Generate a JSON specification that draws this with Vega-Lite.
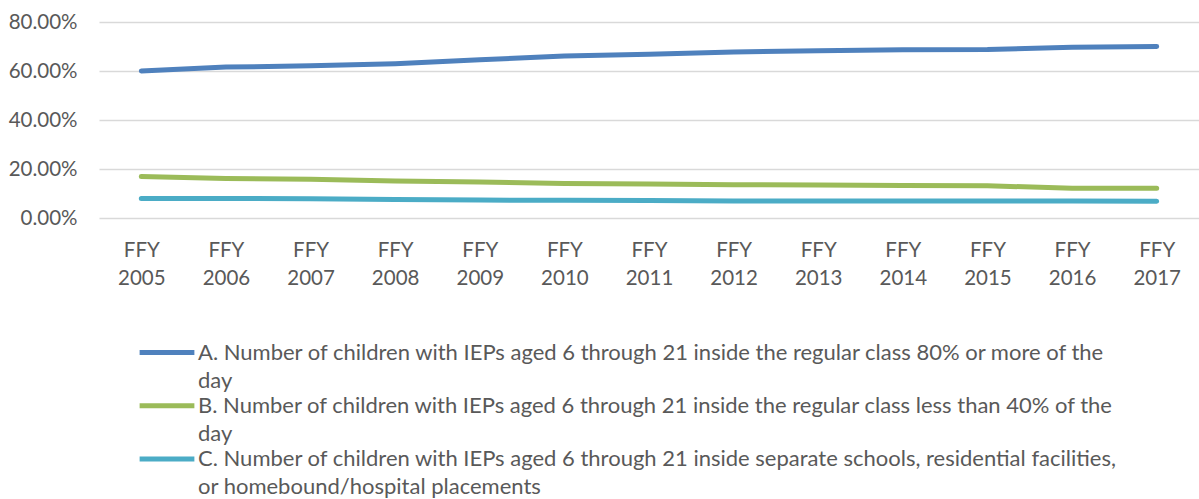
{
  "$schema": "https://vega.github.io/schema/vega-lite/v6.json",
  "width": 1100,
  "height": 196,
  "autosize": {"type": "none"},
  "padding": {"left": 99, "top": 22, "right": 0, "bottom": 281},
  "config": {
    "view": {"stroke": null},
    "font": "Lato",
    "axis": {"labelFont": "Lato", "labelColor": "#595959", "labelFontSize": 20.5},
    "style": {"guide-label": {"lineHeight": 28}}
  },
  "data": {
    "values": [
      {"year": "FFY 2005", "series": "A. Number of children with IEPs aged 6 through 21 inside the regular class 80% or more of the day", "value": 0.600},
      {"year": "FFY 2006", "series": "A. Number of children with IEPs aged 6 through 21 inside the regular class 80% or more of the day", "value": 0.616},
      {"year": "FFY 2007", "series": "A. Number of children with IEPs aged 6 through 21 inside the regular class 80% or more of the day", "value": 0.621},
      {"year": "FFY 2008", "series": "A. Number of children with IEPs aged 6 through 21 inside the regular class 80% or more of the day", "value": 0.630},
      {"year": "FFY 2009", "series": "A. Number of children with IEPs aged 6 through 21 inside the regular class 80% or more of the day", "value": 0.646},
      {"year": "FFY 2010", "series": "A. Number of children with IEPs aged 6 through 21 inside the regular class 80% or more of the day", "value": 0.661},
      {"year": "FFY 2011", "series": "A. Number of children with IEPs aged 6 through 21 inside the regular class 80% or more of the day", "value": 0.668},
      {"year": "FFY 2012", "series": "A. Number of children with IEPs aged 6 through 21 inside the regular class 80% or more of the day", "value": 0.678},
      {"year": "FFY 2013", "series": "A. Number of children with IEPs aged 6 through 21 inside the regular class 80% or more of the day", "value": 0.683},
      {"year": "FFY 2014", "series": "A. Number of children with IEPs aged 6 through 21 inside the regular class 80% or more of the day", "value": 0.687},
      {"year": "FFY 2015", "series": "A. Number of children with IEPs aged 6 through 21 inside the regular class 80% or more of the day", "value": 0.688},
      {"year": "FFY 2016", "series": "A. Number of children with IEPs aged 6 through 21 inside the regular class 80% or more of the day", "value": 0.697},
      {"year": "FFY 2017", "series": "A. Number of children with IEPs aged 6 through 21 inside the regular class 80% or more of the day", "value": 0.700},
      {"year": "FFY 2005", "series": "B. Number of children with IEPs aged 6 through 21 inside the regular class less than 40% of the day", "value": 0.169},
      {"year": "FFY 2006", "series": "B. Number of children with IEPs aged 6 through 21 inside the regular class less than 40% of the day", "value": 0.161},
      {"year": "FFY 2007", "series": "B. Number of children with IEPs aged 6 through 21 inside the regular class less than 40% of the day", "value": 0.158},
      {"year": "FFY 2008", "series": "B. Number of children with IEPs aged 6 through 21 inside the regular class less than 40% of the day", "value": 0.151},
      {"year": "FFY 2009", "series": "B. Number of children with IEPs aged 6 through 21 inside the regular class less than 40% of the day", "value": 0.147},
      {"year": "FFY 2010", "series": "B. Number of children with IEPs aged 6 through 21 inside the regular class less than 40% of the day", "value": 0.141},
      {"year": "FFY 2011", "series": "B. Number of children with IEPs aged 6 through 21 inside the regular class less than 40% of the day", "value": 0.139},
      {"year": "FFY 2012", "series": "B. Number of children with IEPs aged 6 through 21 inside the regular class less than 40% of the day", "value": 0.136},
      {"year": "FFY 2013", "series": "B. Number of children with IEPs aged 6 through 21 inside the regular class less than 40% of the day", "value": 0.135},
      {"year": "FFY 2014", "series": "B. Number of children with IEPs aged 6 through 21 inside the regular class less than 40% of the day", "value": 0.133},
      {"year": "FFY 2015", "series": "B. Number of children with IEPs aged 6 through 21 inside the regular class less than 40% of the day", "value": 0.132},
      {"year": "FFY 2016", "series": "B. Number of children with IEPs aged 6 through 21 inside the regular class less than 40% of the day", "value": 0.121},
      {"year": "FFY 2017", "series": "B. Number of children with IEPs aged 6 through 21 inside the regular class less than 40% of the day", "value": 0.121},
      {"year": "FFY 2005", "series": "C. Number of children with IEPs aged 6 through 21 inside separate schools, residential facilities, or homebound/hospital placements", "value": 0.080},
      {"year": "FFY 2006", "series": "C. Number of children with IEPs aged 6 through 21 inside separate schools, residential facilities, or homebound/hospital placements", "value": 0.080},
      {"year": "FFY 2007", "series": "C. Number of children with IEPs aged 6 through 21 inside separate schools, residential facilities, or homebound/hospital placements", "value": 0.079},
      {"year": "FFY 2008", "series": "C. Number of children with IEPs aged 6 through 21 inside separate schools, residential facilities, or homebound/hospital placements", "value": 0.076},
      {"year": "FFY 2009", "series": "C. Number of children with IEPs aged 6 through 21 inside separate schools, residential facilities, or homebound/hospital placements", "value": 0.073},
      {"year": "FFY 2010", "series": "C. Number of children with IEPs aged 6 through 21 inside separate schools, residential facilities, or homebound/hospital placements", "value": 0.072},
      {"year": "FFY 2011", "series": "C. Number of children with IEPs aged 6 through 21 inside separate schools, residential facilities, or homebound/hospital placements", "value": 0.071},
      {"year": "FFY 2012", "series": "C. Number of children with IEPs aged 6 through 21 inside separate schools, residential facilities, or homebound/hospital placements", "value": 0.069},
      {"year": "FFY 2013", "series": "C. Number of children with IEPs aged 6 through 21 inside separate schools, residential facilities, or homebound/hospital placements", "value": 0.069},
      {"year": "FFY 2014", "series": "C. Number of children with IEPs aged 6 through 21 inside separate schools, residential facilities, or homebound/hospital placements", "value": 0.069},
      {"year": "FFY 2015", "series": "C. Number of children with IEPs aged 6 through 21 inside separate schools, residential facilities, or homebound/hospital placements", "value": 0.069},
      {"year": "FFY 2016", "series": "C. Number of children with IEPs aged 6 through 21 inside separate schools, residential facilities, or homebound/hospital placements", "value": 0.069},
      {"year": "FFY 2017", "series": "C. Number of children with IEPs aged 6 through 21 inside separate schools, residential facilities, or homebound/hospital placements", "value": 0.068}
    ]
  },
  "mark": {"type": "line", "strokeWidth": 5, "strokeCap": "round", "strokeJoin": "round"},
  "encoding": {
    "x": {
      "field": "year", "type": "ordinal", "title": null,
      "scale": {"type": "point", "padding": 0.5},
      "axis": {"domain": false, "ticks": false, "grid": false, "labelAngle": 0, "labelPadding": 22, "labelLineHeight": 28, "labelExpr": "split(datum.label, ' ')"}
    },
    "y": {
      "field": "value", "type": "quantitative", "title": null,
      "scale": {"domain": [0, 0.8], "nice": false},
      "axis": {"values": [0, 0.2, 0.4, 0.6, 0.8], "format": ".2%", "domain": false, "ticks": false, "labelPadding": 22, "gridColor": "#d9d9d9", "gridWidth": 1.5}
    },
    "color": {
      "field": "series", "type": "nominal", "title": null,
      "scale": {"range": ["#4f81bd", "#9bbb59", "#4bacc6"]},
      "legend": {
        "orient": "none", "legendX": 38, "legendY": 318, "direction": "vertical",
        "symbolType": "stroke", "symbolSize": 3000, "symbolStrokeWidth": 5,
        "labelFont": "Lato", "labelFontSize": 22, "labelColor": "#595959", "labelLimit": 1100,
        "labelOffset": 1, "rowPadding": 1.3, "clipHeight": 25,
        "labelExpr": "split(replace(replace(datum.label, 'of the day', 'of the|day'), 'facilities, or', 'facilities,|or'), '|')"
      }
    }
  }
}
